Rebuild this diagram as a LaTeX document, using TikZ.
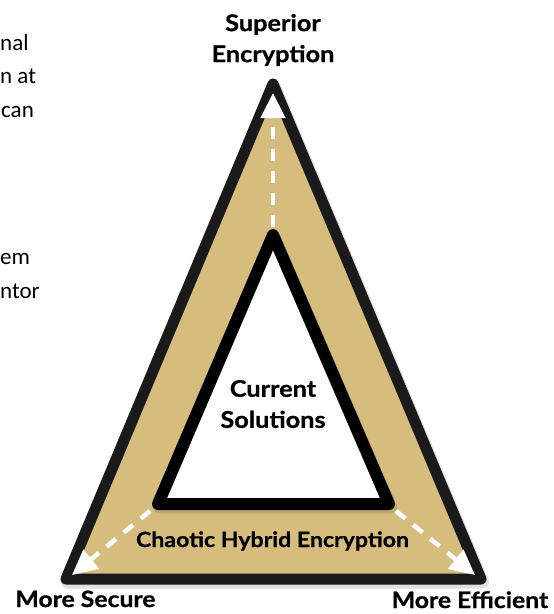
\documentclass[tikz,border=0pt]{standalone}
\usepackage{fontspec}
\setmainfont{Lato}
\newfontfamily\lblfont{Lato}[FakeStretch=1.1,BoldFeatures={FakeBold=0.8}]
\newfontfamily\sidefont{Carlito}
\usetikzlibrary{arrows.meta}
\definecolor{tanfill}{RGB}{214,189,126}
\definecolor{outerline}{RGB}{26,26,26}
\begin{document}
\begin{tikzpicture}[x=1pt,y=-1pt,
  outertri/.style={line width=11pt,line join=round,draw=outerline,fill=tanfill},
  innertri/.style={line width=12pt,line join=round,draw=black,fill=white},
  shadowtri/.style={line width=13pt,line join=round,draw=black,fill=black,opacity=0.12},
  dasharrow/.style={draw=white,line width=4.5pt,dash pattern=on 12pt off 10pt,
    -{Triangle[width=24pt,length=25pt,fill=white]}},
  lbl/.style={font=\lblfont\bfseries\fontsize{23}{31}\selectfont,align=center,inner sep=0pt},
  sidetxt/.style={font=\sidefont\fontsize{23}{26}\selectfont,anchor=base west,inner sep=0pt}]
\useasboundingbox (0,0) rectangle (554,614);
% left fragments
\node[sidetxt] (f1) at (0,50) {nal};
\node[sidetxt] (f2) at (0,83) {n at};
\node[sidetxt] (f3) at (1,117) {can};
\node[sidetxt] (f4) at (0,264) {em};
\node[sidetxt] (f5) at (0,298) {ntor};
% triangles
\coordinate (OT) at (273,84);
\coordinate (OL) at (66,579);
\coordinate (OR) at (481,579);
\draw[shadowtri] ([shift={(1.5,3)}]OT) -- ([shift={(1.5,3)}]OL) -- ([shift={(1.5,3)}]OR) -- cycle;
\draw[outertri] (OT) -- (OL) -- (OR) -- cycle;
\coordinate (IT) at (273,235);
\coordinate (IL) at (158,504);
\coordinate (IR) at (389,504);
\draw[shadowtri,fill=none] ([shift={(1.5,3)}]IT) -- ([shift={(1.5,3)}]IL) -- ([shift={(1.5,3)}]IR) -- cycle;
\draw[innertri] (IT) -- (IL) -- (IR) -- cycle;
% arrows
\coordinate (aT0) at (273,227);
\coordinate (aT1) at (273,93);
\coordinate (aL0) at (150,511);
\coordinate (aL1) at (72,575);
\coordinate (aR0) at (396,511);
\coordinate (aR1) at (475,575);
\draw[dasharrow] (aT0) -- (aT1);
\draw[dasharrow] (aL0) -- (aL1);
\draw[dasharrow] (aR0) -- (aR1);
% labels
\node[lbl] (sup) at (273,40) {Superior\\Encryption};
\node[lbl] (cur) at (273,404) {Current\\Solutions};
\node[lbl,font=\lblfont\bfseries\fontsize{21}{24}\selectfont,anchor=base] (chaos) at (272.5,547) {Chaotic Hybrid Encryption};
\node[lbl,font=\lblfont\bfseries\fontsize{22.5}{24}\selectfont,anchor=base] (sec) at (85.5,607) {More Secure};
\node[lbl,font=\lblfont\bfseries\fontsize{22.5}{24}\selectfont,anchor=base] (eff) at (470,608) {More Efficient};
\end{tikzpicture}
\end{document}
